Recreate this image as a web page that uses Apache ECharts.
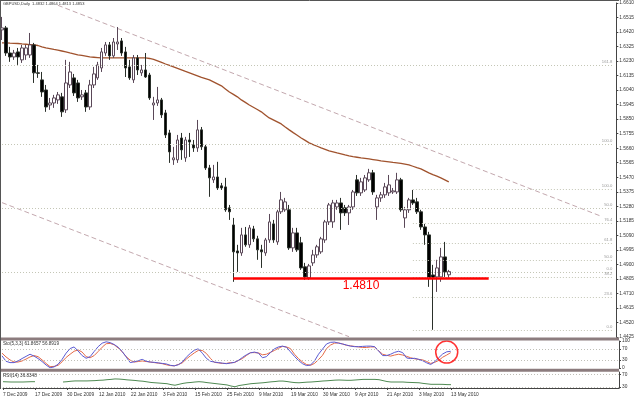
<!DOCTYPE html>
<html><head><meta charset="utf-8">
<script src="https://cdn.jsdelivr.net/npm/echarts@6/dist/echarts.min.js"></script>
<style>html,body{margin:0;padding:0;background:#fff}#c{width:637px;height:399px}</style>
</head><body><div id="c"></div>
<script>
const symbolName = 'GBPUSD,Daily';
const dateLabels = ['7 Dec 2009','17 Dec 2009','30 Dec 2009','12 Jan 2010','22 Jan 2010','3 Feb 2010','15 Feb 2010','25 Feb 2010','9 Mar 2010','19 Mar 2010','30 Mar 2010','9 Apr 2010','21 Apr 2010','3 May 2010','13 May 2010'];
const labelStep = 8;
const slotCount = 155;
const priceTicks = [1.6610,1.6515,1.6420,1.6325,1.6230,1.6135,1.6040,1.5945,1.5850,1.5755,1.5660,1.5565,1.5470,1.5375,1.5280,1.5185,1.5090,1.4995,1.4900,1.4805,1.4710,1.4615,1.4520,1.4425];
// [open, high, low, close]
const ohlc = [
[1.6434,1.6519,1.6368,1.6447],[1.6447,1.6460,1.6264,1.6283],[1.6283,1.6323,1.6225,1.6257],[1.6257,1.6303,1.6238,1.6283],
[1.6290,1.6316,1.6205,1.6257],[1.6238,1.6336,1.6218,1.6316],[1.6270,1.6336,1.6238,1.6316],[1.6270,1.6414,1.6251,1.6336],
[1.6336,1.6349,1.6087,1.6153],[1.6153,1.6205,1.6120,1.6150],[1.6107,1.6159,1.5996,1.6028],[1.6041,1.6074,1.5898,1.5930],
[1.5943,1.5989,1.5911,1.5956],[1.5956,1.6009,1.5924,1.5989],[1.5976,1.6028,1.5950,1.6009],[1.5996,1.6022,1.5865,1.5898],
[1.5911,1.6238,1.5891,1.6087],[1.6074,1.6225,1.6054,1.6159],[1.6120,1.6146,1.6002,1.6022],[1.6087,1.6107,1.5963,1.5989],
[1.5996,1.6041,1.5976,1.6009],[1.6022,1.6041,1.5898,1.5930],[1.5930,1.6107,1.5911,1.6074],[1.6074,1.6192,1.6054,1.6146],
[1.6120,1.6225,1.6107,1.6205],[1.6185,1.6316,1.6159,1.6290],[1.6283,1.6355,1.6264,1.6336],[1.6336,1.6355,1.6238,1.6264],
[1.6264,1.6381,1.6251,1.6355],[1.6342,1.6453,1.6303,1.6355],[1.6362,1.6381,1.6264,1.6283],[1.6290,1.6323,1.6126,1.6185],
[1.6192,1.6238,1.6107,1.6120],[1.6107,1.6270,1.6087,1.6251],[1.6251,1.6270,1.6139,1.6172],[1.6153,1.6205,1.6133,1.6172],
[1.6172,1.6283,1.6120,1.6126],[1.6139,1.6153,1.5976,1.5989],[1.5943,1.5996,1.5845,1.5956],[1.5956,1.6061,1.5937,1.5976],
[1.5976,1.5989,1.5858,1.5878],[1.5891,1.5911,1.5727,1.5747],[1.5760,1.5780,1.5564,1.5636],[1.5584,1.5669,1.5551,1.5597],
[1.5584,1.5747,1.5564,1.5714],[1.5727,1.5760,1.5584,1.5649],[1.5597,1.5734,1.5571,1.5714],[1.5714,1.5760,1.5603,1.5701],
[1.5682,1.5714,1.5636,1.5662],[1.5662,1.5845,1.5636,1.5780],[1.5780,1.5799,1.5649,1.5669],[1.5669,1.5682,1.5518,1.5531],
[1.5531,1.5551,1.5342,1.5466],[1.5453,1.5551,1.5433,1.5472],[1.5472,1.5571,1.5387,1.5400],[1.5414,1.5433,1.5387,1.5400],
[1.5407,1.5466,1.5244,1.5257],[1.5270,1.5289,1.5191,1.5244],[1.5158,1.5204,1.4786,1.4982],[1.4988,1.5028,1.4851,1.4975],
[1.4975,1.5139,1.4956,1.5093],[1.5093,1.5145,1.5015,1.5028],[1.5028,1.5158,1.5008,1.5139],[1.5132,1.5152,1.5047,1.5067],
[1.5067,1.5087,1.4930,1.4995],[1.4995,1.5028,1.4877,1.4982],[1.4975,1.5073,1.4956,1.5060],[1.5060,1.5230,1.5041,1.5178],
[1.5165,1.5191,1.5041,1.5060],[1.5047,1.5257,1.5028,1.5244],[1.5244,1.5374,1.5230,1.5322],[1.5257,1.5335,1.5244,1.5309],
[1.5257,1.5289,1.4995,1.5008],[1.5008,1.5139,1.4982,1.5106],[1.5106,1.5139,1.4982,1.4995],[1.5041,1.5080,1.4864,1.4877],
[1.4884,1.4910,1.4799,1.4818],[1.4812,1.4903,1.4799,1.4890],[1.4910,1.4995,1.4890,1.4962],[1.4962,1.5028,1.4943,1.5015],
[1.4982,1.5080,1.4969,1.5067],[1.5060,1.5191,1.5041,1.5178],[1.5178,1.5302,1.5158,1.5289],[1.5178,1.5322,1.5139,1.5302],
[1.5276,1.5322,1.5257,1.5302],[1.5302,1.5335,1.5126,1.5237],[1.5270,1.5289,1.5217,1.5237],[1.5237,1.5289,1.5158,1.5276],
[1.5276,1.5387,1.5257,1.5374],[1.5453,1.5485,1.5348,1.5368],[1.5368,1.5466,1.5348,1.5440],[1.5387,1.5485,1.5374,1.5466],
[1.5453,1.5525,1.5440,1.5499],[1.5499,1.5518,1.5355,1.5374],[1.5276,1.5355,1.5191,1.5335],[1.5335,1.5374,1.5309,1.5355],
[1.5355,1.5433,1.5335,1.5407],[1.5368,1.5485,1.5348,1.5420],[1.5374,1.5400,1.5361,1.5381],[1.5374,1.5499,1.5361,1.5453],
[1.5453,1.5466,1.5244,1.5257],[1.5204,1.5276,1.5139,1.5257],[1.5257,1.5335,1.5237,1.5322],[1.5322,1.5387,1.5289,1.5302],
[1.5309,1.5335,1.5230,1.5244],[1.5244,1.5257,1.5126,1.5145],[1.5145,1.5165,1.5028,1.5093],[1.5093,1.5113,1.4753,1.4812],
[1.4831,1.4897,1.4472,1.4812],[1.4818,1.4930,1.4720,1.4877],[1.4818,1.5008,1.4786,1.4949],[1.4949,1.5047,1.4818,1.4851],
[1.4832,1.4864,1.4813,1.4853]
];
const ma = [1.6349,1.6349,1.6347,1.6346,1.6345,1.6342,1.6340,1.6338,1.6336,1.6332,
1.6323,1.6316,1.6312,1.6306,1.6302,1.6296,1.6290,1.6283,1.6277,1.6270,
1.6267,1.6262,1.6257,1.6255,1.6253,1.6251,1.6251,1.6251,1.6251,1.6251,
1.6251,1.6251,1.6251,1.6251,1.6251,1.6251,1.6251,1.6247,1.6241,1.6231,
1.6221,1.6211,1.6202,1.6192,1.6182,1.6172,1.6162,1.6153,1.6143,1.6133,
1.6123,1.6115,1.6107,1.6094,1.6081,1.6068,1.6048,1.6028,1.6012,1.5996,
1.5976,1.5960,1.5943,1.5928,1.5913,1.5898,1.5878,1.5858,1.5845,1.5832,
1.5819,1.5799,1.5780,1.5762,1.5745,1.5727,1.5711,1.5695,1.5684,1.5673,
1.5662,1.5652,1.5642,1.5636,1.5629,1.5623,1.5616,1.5610,1.5605,1.5601,
1.5597,1.5594,1.5590,1.5586,1.5582,1.5577,1.5574,1.5571,1.5567,1.5564,
1.5561,1.5556,1.5551,1.5542,1.5533,1.5525,1.5512,1.5499,1.5487,1.5477,
1.5466,1.5453,1.5440];
const stochK = [45,25,20,20,26,35,43,51,44,35,
24,11,1,4,14,32,55,72,78,63,
46,36,42,61,79,92,97,94,87,77,
61,41,20,23,27,32,25,22,21,19,
17,15,10,8,12,22,40,54,66,71,
55,36,25,22,20,18,16,18,21,28,
39,49,56,59,55,38,42,57,71,78,
81,77,60,43,28,16,9,11,26,51,
70,89,95,96,92,89,85,81,79,79,
80,81,81,79,63,46,46,51,58,62,
57,37,35,36,32,27,19,13,23,38,
52,60,61.8657];
const stochD = [55,41,30,22,22,26,33,41,46,42,
30,17,5,6,10,23,39,51,62,67,
59,42,38,46,61,77,90,91,86,74,
60,42,29,22,24,26,24,22,20,18,
16,12,9,8,13,19,33,45,56,65,
65,54,36,21,19,17,17,20,20,28,
35,46,57,57,56,49,51,58,65,73,
80,78,72,51,35,22,13,10,17,31,
47,72,85,92,93,89,84,82,80,78,
76,76,78,78,64,51,47,44,48,51,
48,43,38,34,32,30,24,17,21,28,
40,48,56.8919];
const rsi = [46.5,46,45.5,45.5,45.5,45.5,46,46.5,46.5,null,
null,null,null,null,null,45.5,46.5,48,49,49,
49,49,49.5,50,51,51.5,53,54,55.5,55,
54,52.5,51.5,50.5,49,48,46,44,43,42,
41,40,37,35,38,41,43,44,45.5,46.5,
45.5,43.5,42,40.5,39,37.5,36,32.5,30,34,
36,38,40,41,42,43,44.5,46,47,48.5,
48.5,47,45,43.5,43,44,45,45.5,46.5,47.5,
48.8,49.5,50.5,51.5,52,51.5,51,51,52,53,
54,54,54,54,53,50,47,45.5,45.5,45.5,
45.5,44.5,44,43.5,43,41,39.5,38,38,38,
37.8,37,36.8348];
const stochLevels = [70, 30];
const stochTicks = [0, 30, 70, 100];
const rsiLevels = [70, 30];
const rsiTicks = [30, 70];
const supportLevel = 1.4810;
const supportFrom = 58, supportTo = 122;
const upperTrend = [[14, 1.6595], [150, 1.5217]];
const lowerTrend = [[0, 1.5304], [87, 1.4427]];
const fibALabels = ['161.8', '100.0', '50.0', '0.0'];
const fibAPrices = [1.6205, 1.5688, 1.5270, 1.4851];
const fibAFrom = 0, fibATo = 153;
const fibBLabels = ['100.0', '76.4', '61.8', '50.0', '38.2', '23.6', '0.0'];
const fibBPrices = [1.5394, 1.5172, 1.5041, 1.4930, 1.4818, 1.4688, 1.4472];
const fibBFrom = 103, fibBTo = 153;
const circleAt = [111, 59];

const FONT = 'Liberation Sans';
const slots = Array.from({length: slotCount}, (_, i) => String(i));
const candleData = ohlc.map(d => [d[0], d[3], d[2], d[1]]);
const last = ohlc[ohlc.length - 1];
const f4 = v => v.toFixed(4);
const titleText = symbolName + '  ' + last.map(f4).join(' ');
const stochTitle = 'Sto(5,3,3) ' + stochK[stochK.length-1].toFixed(4) + ' ' + stochD[stochD.length-1].toFixed(4);
const rsiTitle = 'RSI(14) ' + rsi[rsi.length-1].toFixed(4);
const showDate = idx => idx % labelStep === 0 && idx / labelStep < dateLabels.length;

function fibLines(labels, prices, from, to) {
  return prices.map((p, k) => [
    {coord: [from, p], label: {formatter: labels[k]}},
    {coord: [to, p]}
  ]);
}

const GL = 2, GW = 617;
const chart = echarts.init(document.getElementById('c'), null, {renderer: 'canvas'});
const hidX = (gi) => ({type: 'category', gridIndex: gi, data: slots, boundaryGap: false,
  axisLine: {show: false}, axisTick: {show: false}, axisLabel: {show: false}, splitLine: {show: false}});
chart.setOption({
  animation: false,
  backgroundColor: '#ffffff',
  textStyle: {fontFamily: FONT},
  title: [
    {text: titleText, left: 3, top: 2, padding: 0, textStyle: {fontSize: 4, fontWeight: 'normal', color: '#333', fontFamily: FONT}},
    {text: stochTitle, left: 3, top: 341, padding: 0, textStyle: {fontSize: 4.6, fontWeight: 'normal', color: '#333', fontFamily: FONT}},
    {text: rsiTitle, left: 3, top: 373, padding: 0, textStyle: {fontSize: 4.6, fontWeight: 'normal', color: '#333', fontFamily: FONT}}
  ],
  grid: [
    {left: GL, width: GW, top: 3, height: 334},
    {left: GL, width: GW, top: 341, height: 27},
    {left: GL, width: GW, top: 372, height: 16}
  ],
  xAxis: [
    hidX(0), hidX(1),
    {type: 'category', gridIndex: 2, data: slots, boundaryGap: false,
     axisLine: {show: true, lineStyle: {color: '#444', width: 1}},
     axisTick: {show: true, interval: (i) => showDate(i), length: 2, lineStyle: {color: '#444'}},
     axisLabel: {show: true, interval: (i) => showDate(i), formatter: (v, i) => showDate(+v) ? dateLabels[(+v) / labelStep] : '',
       align: 'left', margin: 4, fontSize: 4.8, color: '#333', fontFamily: FONT},
     splitLine: {show: false}}
  ],
  yAxis: [
    {type: 'value', gridIndex: 0, position: 'right', min: 1.4425, max: 1.6610, scale: true,
     axisLine: {show: true, lineStyle: {color: '#444'}},
     axisTick: {show: true, length: 2, customValues: priceTicks, lineStyle: {color: '#444'}},
     axisLabel: {show: true, customValues: priceTicks, formatter: v => v.toFixed(4), margin: 3, fontSize: 4.8, color: '#333', fontFamily: FONT},
     splitLine: {show: false}},
    {type: 'value', gridIndex: 1, position: 'right', min: 0, max: 100,
     axisLine: {show: true, lineStyle: {color: '#444'}},
     axisTick: {show: true, length: 2, customValues: stochTicks, lineStyle: {color: '#444'}},
     axisLabel: {show: true, customValues: stochTicks, margin: 3, fontSize: 4.8, color: '#333', fontFamily: FONT},
     splitLine: {show: false}},
    {type: 'value', gridIndex: 2, position: 'right', min: 26, max: 78,
     axisLine: {show: true, lineStyle: {color: '#444'}},
     axisTick: {show: true, length: 2, customValues: rsiTicks, lineStyle: {color: '#444'}},
     axisLabel: {show: true, customValues: rsiTicks, margin: 3, fontSize: 4.8, color: '#333', fontFamily: FONT},
     splitLine: {show: false}}
  ],
  series: [
    {type: 'line', name: 'fibA', xAxisIndex: 0, yAxisIndex: 0, data: [], silent: true,
     markLine: {silent: true, symbol: ['none', 'none'], animation: false,
       lineStyle: {type: [1, 2], color: '#c4c6b6', width: 1},
       label: {show: true, position: 'insideEndTop', distance: [0, 1], fontSize: 4.2, color: '#999', fontFamily: FONT},
       data: fibLines(fibALabels, fibAPrices, fibAFrom, fibATo)}},
    {type: 'line', name: 'fibB', xAxisIndex: 0, yAxisIndex: 0, data: [], silent: true,
     markLine: {silent: true, symbol: ['none', 'none'], animation: false,
       lineStyle: {type: [1, 2], color: '#c4c6b6', width: 1},
       label: {show: true, position: 'insideEndTop', distance: [0, 1], fontSize: 4.2, color: '#999', fontFamily: FONT},
       data: fibLines(fibBLabels, fibBPrices, fibBFrom, fibBTo)}},
    {type: 'line', name: 'trendUp', xAxisIndex: 0, yAxisIndex: 0, data: upperTrend, showSymbol: false, silent: true,
     lineStyle: {color: '#c3a8ae', width: 1, type: [5, 3]}},
    {type: 'line', name: 'trendLow', xAxisIndex: 0, yAxisIndex: 0, data: lowerTrend, showSymbol: false, silent: true,
     lineStyle: {color: '#c3a8ae', width: 1, type: [5, 3]}},
    {type: 'line', name: 'MA', xAxisIndex: 0, yAxisIndex: 0, data: ma, showSymbol: false, silent: true, z: 3,
     lineStyle: {color: '#a0522d', width: 1.3}},
    {type: 'candlestick', name: symbolName, xAxisIndex: 0, yAxisIndex: 0, data: candleData, barWidth: 3, clip: false, z: 4,
     itemStyle: {color: '#ffffff', color0: '#000000', borderColor: '#5a4858', borderColor0: '#2a302a', borderWidth: 1},
     markLine: {silent: true, symbol: ['none', 'none'], animation: false,
       data: [
         [{coord: [supportFrom, supportLevel], lineStyle: {color: '#ff0000', width: 2.5, type: 'solid'},
           label: {show: true, position: 'insideMiddleBottom', formatter: f4(supportLevel), fontSize: 12, color: '#ff0000', fontFamily: FONT, distance: 2}},
          {coord: [supportTo, supportLevel]}],
         {yAxis: last[3], lineStyle: {opacity: 0},
          label: {show: true, position: 'end', formatter: f4(last[3]), distance: 2, fontSize: 4.8, color: '#ffffff', backgroundColor: '#000000', padding: [1, 1, 0, 1], fontFamily: FONT}}
       ]}},
    {type: 'line', name: 'StochMain', xAxisIndex: 1, yAxisIndex: 1, data: stochK, showSymbol: false, silent: true, z: 4,
     lineStyle: {color: '#5a5ad2', width: 1},
     markLine: {silent: true, symbol: ['none', 'none'], animation: false, label: {show: false},
       lineStyle: {type: [1, 2], color: '#c0c0b8', width: 1},
       data: stochLevels.map(v => ({yAxis: v}))}},
    {type: 'line', name: 'StochSignal', xAxisIndex: 1, yAxisIndex: 1, data: stochD, showSymbol: false, silent: true, z: 3,
     lineStyle: {color: '#e46a48', width: 1}},
    {type: 'scatter', name: 'circle', xAxisIndex: 1, yAxisIndex: 1, data: [circleAt], symbol: 'circle', symbolSize: 22, silent: true, z: 6,
     itemStyle: {color: 'rgba(0,0,0,0)', borderColor: '#ff0000', borderWidth: 1.5}},
    {type: 'line', name: 'RSI', xAxisIndex: 2, yAxisIndex: 2, data: rsi, showSymbol: false, silent: true, connectNulls: false,
     lineStyle: {color: '#4f8a52', width: 1},
     markLine: {silent: true, symbol: ['none', 'none'], animation: false, label: {show: false},
       lineStyle: {type: [1, 2], color: '#c0c0b8', width: 1},
       data: rsiLevels.map(v => ({yAxis: v}))}}
  ],
  graphic: [
    {type: 'rect', shape: {x: 0, y: 337.5, width: 619, height: 3}, style: {fill: '#8c7c7e'}, silent: true, z: 10},
    {type: 'rect', shape: {x: 0, y: 368.8, width: 619, height: 3}, style: {fill: '#8c7c7e'}, silent: true, z: 10},
    {type: 'line', shape: {x1: 0.5, y1: 0, x2: 0.5, y2: 389}, style: {stroke: '#555', lineWidth: 1}, silent: true, z: 10},
    {type: 'line', shape: {x1: 0, y1: 0.5, x2: 619, y2: 0.5}, style: {stroke: '#555', lineWidth: 1}, silent: true, z: 10}
  ]
});
</script></body></html>
